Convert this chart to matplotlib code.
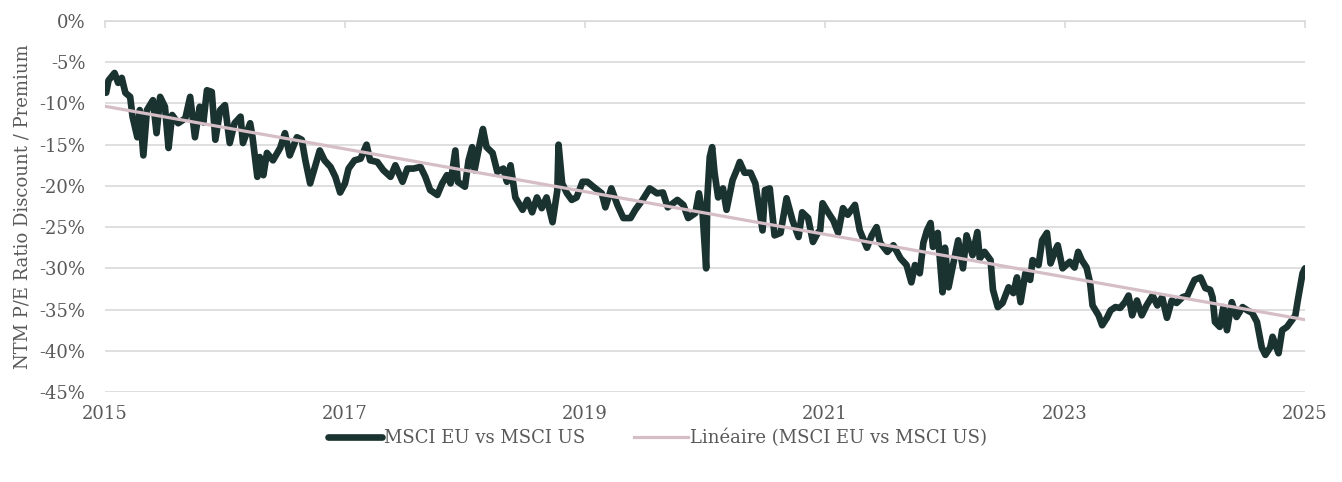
import numpy as np
import matplotlib.pyplot as plt

# decimal year and NTM P/E discount (%) of MSCI EU vs MSCI US
years = [
    2015.01, 2015.03, 2015.08, 2015.11, 2015.14, 2015.17, 2015.21, 2015.23, 2015.27, 2015.29,
    2015.32, 2015.35, 2015.40, 2015.43, 2015.46, 2015.50, 2015.53, 2015.56, 2015.61, 2015.67,
    2015.71, 2015.75, 2015.79, 2015.82, 2015.85, 2015.89, 2015.92, 2015.96, 2016.00, 2016.04,
    2016.08, 2016.13, 2016.15, 2016.21, 2016.23, 2016.27, 2016.29, 2016.32, 2016.35, 2016.40,
    2016.46, 2016.50, 2016.54, 2016.60, 2016.64, 2016.67, 2016.71, 2016.75, 2016.79, 2016.83,
    2016.88, 2016.92, 2016.96, 2017.00, 2017.03, 2017.08, 2017.13, 2017.18, 2017.21, 2017.27,
    2017.32, 2017.38, 2017.42, 2017.48, 2017.52, 2017.57, 2017.63, 2017.67, 2017.71, 2017.77,
    2017.81, 2017.85, 2017.88, 2017.92, 2017.94, 2018.00, 2018.03, 2018.06, 2018.08, 2018.13,
    2018.15, 2018.18, 2018.23, 2018.27, 2018.32, 2018.35, 2018.38, 2018.42, 2018.48, 2018.52,
    2018.56, 2018.60, 2018.64, 2018.68, 2018.73, 2018.77, 2018.78, 2018.81, 2018.85, 2018.89,
    2018.93, 2018.98, 2019.02, 2019.07, 2019.14, 2019.17, 2019.22, 2019.27, 2019.32, 2019.38,
    2019.42, 2019.48, 2019.54, 2019.60, 2019.65, 2019.69, 2019.77, 2019.82, 2019.86, 2019.92,
    2019.95, 2019.98, 2020.01, 2020.02, 2020.04, 2020.06, 2020.08, 2020.11, 2020.15, 2020.18,
    2020.23, 2020.27, 2020.29, 2020.33, 2020.38, 2020.42, 2020.48, 2020.50, 2020.54, 2020.58,
    2020.63, 2020.68, 2020.73, 2020.78, 2020.81, 2020.86, 2020.90, 2020.94, 2020.96, 2020.98,
    2021.03, 2021.07, 2021.11, 2021.15, 2021.19, 2021.25, 2021.29, 2021.35, 2021.39, 2021.43,
    2021.46, 2021.52, 2021.57, 2021.63, 2021.68, 2021.72, 2021.75, 2021.79, 2021.82, 2021.85,
    2021.88, 2021.90, 2021.94, 2021.98, 2022.00, 2022.03, 2022.07, 2022.11, 2022.15, 2022.18,
    2022.23, 2022.27, 2022.29, 2022.33, 2022.38, 2022.40, 2022.44, 2022.48, 2022.53, 2022.57,
    2022.60, 2022.63, 2022.67, 2022.71, 2022.73, 2022.78, 2022.81, 2022.85, 2022.88, 2022.92,
    2022.94, 2022.98, 2023.04, 2023.08, 2023.11, 2023.14, 2023.18, 2023.21, 2023.23, 2023.28,
    2023.31, 2023.35, 2023.38, 2023.42, 2023.46, 2023.50, 2023.53, 2023.56, 2023.60, 2023.64,
    2023.68, 2023.73, 2023.77, 2023.81, 2023.85, 2023.89, 2023.93, 2023.98, 2024.02, 2024.06,
    2024.08, 2024.13, 2024.17, 2024.21, 2024.23, 2024.25, 2024.29, 2024.32, 2024.35, 2024.39,
    2024.43, 2024.48, 2024.52, 2024.56, 2024.60, 2024.64, 2024.67, 2024.71, 2024.73, 2024.78,
    2024.81, 2024.85, 2024.89, 2024.92, 2024.94, 2024.98, 2025.00,
]
discount = [
    -8.7, -7.2, -6.3, -7.5, -6.9, -8.7, -9.2, -11.6, -14.1, -10.8,
    -16.3, -10.8, -9.6, -13.6, -9.2, -10.4, -15.4, -11.4, -12.4, -11.8,
    -9.2, -14.1, -10.4, -12.3, -8.4, -8.6, -14.4, -10.8, -10.2, -14.8,
    -12.4, -11.6, -14.8, -12.4, -14.1, -18.9, -16.5, -18.7, -16.0, -16.9,
    -15.4, -13.6, -16.3, -14.1, -14.4, -16.9, -19.7, -17.7, -15.7, -16.9,
    -17.7, -18.9, -20.8, -19.7, -17.9, -16.9, -16.7, -15.0, -16.9, -17.1,
    -18.1, -18.9, -17.5, -19.5, -17.9, -17.9, -17.7, -18.9, -20.5, -21.1,
    -19.7, -18.7, -19.7, -15.7, -19.5, -20.1, -16.9, -15.3, -18.1, -14.4,
    -13.1, -15.3, -16.0, -18.3, -17.9, -19.5, -17.5, -21.4, -22.9, -21.7,
    -23.2, -21.4, -22.7, -21.4, -24.4, -20.5, -15.0, -19.7, -20.9, -21.7,
    -21.4, -19.5, -19.5, -20.1, -20.9, -22.6, -20.3, -22.3, -23.9, -23.9,
    -22.9, -21.7, -20.3, -20.9, -20.8, -22.6, -21.7, -22.3, -23.9, -23.3,
    -20.9, -23.3, -30.0, -21.4, -16.5, -15.3, -18.4, -21.4, -20.3, -22.9,
    -19.3, -17.9, -17.1, -18.4, -18.4, -19.7, -25.4, -20.5, -20.3, -26.0,
    -25.7, -21.5, -24.2, -26.2, -23.2, -23.9, -26.8, -25.7, -25.4, -22.1,
    -23.3, -24.2, -25.7, -22.7, -23.5, -22.3, -25.4, -27.5, -26.0, -25.0,
    -26.9, -28.0, -27.2, -28.8, -29.6, -31.7, -29.6, -30.6, -26.9, -25.4,
    -24.5, -27.4, -25.7, -32.9, -27.5, -32.3, -29.4, -26.6, -30.0, -26.0,
    -28.4, -25.6, -28.8, -28.0, -29.0, -32.6, -34.7, -34.2, -32.3, -33.0,
    -31.1, -34.1, -30.6, -31.4, -29.0, -29.6, -26.6, -25.7, -29.4, -27.8,
    -27.2, -30.0, -29.2, -29.9, -28.0, -29.0, -29.9, -31.8, -34.5, -35.7,
    -36.9, -36.0, -35.1, -34.7, -34.8, -34.1, -33.3, -35.7, -33.9, -35.7,
    -34.5, -33.3, -34.5, -33.5, -36.0, -33.9, -34.2, -33.5, -33.3, -32.0,
    -31.4, -31.1, -32.4, -32.6, -33.5, -36.5, -37.1, -34.7, -37.5, -34.1,
    -35.9, -34.7, -35.1, -35.4, -36.5, -39.6, -40.5, -39.6, -38.3, -40.3,
    -37.5, -37.1, -36.3, -35.7, -33.9, -30.6, -30.0,
]

yticks = [0, -5, -10, -15, -20, -25, -30, -35, -40, -45]
xticks = [2015, 2017, 2019, 2021, 2023, 2025]

x = np.array(years)
y = np.array(discount)

# linear trend, like Excel's "Linéaire" trendline
slope, intercept = np.polyfit(x, y, 1)
trend_x = np.array([2015, 2025])
trend_y = slope * trend_x + intercept

plt.rcParams['font.family'] = ['DejaVu Serif']
text_col = '#595959'

fig = plt.figure(figsize=(13.42, 4.82), dpi=100)
ax = fig.add_axes([0.0782, 0.1867, 0.8942, 0.7697])

ax.plot(x, y, color='#1b3330', linewidth=4.8, solid_joinstyle='round',
        solid_capstyle='round', label='MSCI EU vs MSCI US', zorder=3)
ax.plot(trend_x, trend_y, color='#d6bec6', linewidth=2.3,
        label='Linéaire (MSCI EU vs MSCI US)', zorder=4)

ax.set_xlim(2015, 2025)
ax.set_ylim(-45, 0)
ax.set_yticks(yticks)
ax.set_yticklabels([f'{v}%' for v in yticks])
ax.set_xticks(xticks)
ax.set_xticklabels([str(v) for v in xticks])

ax.grid(axis='y', color='#d9d9d9', linewidth=1.2)
ax.set_axisbelow(True)
for s in ['left', 'right', 'bottom']:
    ax.spines[s].set_visible(False)
ax.spines['top'].set_color('#d9d9d9')
ax.spines['top'].set_linewidth(1.2)

ax.tick_params(axis='y', length=0, pad=14, labelsize=13, labelcolor=text_col)
ax.tick_params(axis='x', top=True, bottom=False, direction='in', length=5,
               color='#d9d9d9', width=1.2, labeltop=False, labelbottom=True,
               pad=9, labelsize=13, labelcolor=text_col)

ax.set_ylabel('NTM P/E Ratio Discount / Premium', fontsize=13, color=text_col, labelpad=6)

leg = fig.legend(loc='center', bbox_to_anchor=(0.49, 0.091), ncol=2, frameon=False,
                 fontsize=13, handlelength=3.0, handletextpad=0.1, columnspacing=2.7)
for t in leg.get_texts():
    t.set_color(text_col)

fig.savefig('out.png', dpi=100)
